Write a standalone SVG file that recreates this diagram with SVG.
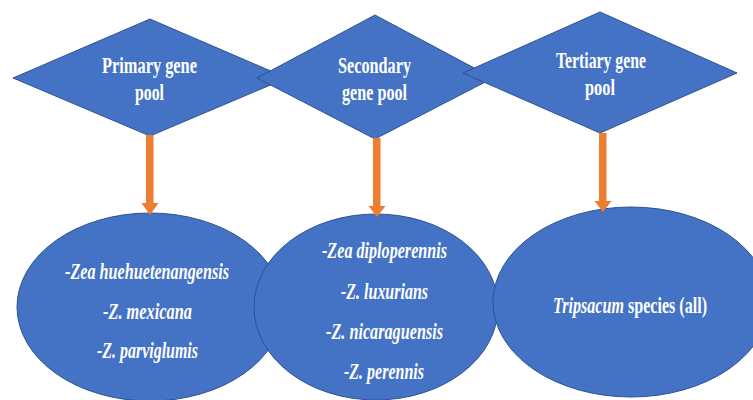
<svg xmlns="http://www.w3.org/2000/svg" width="753" height="400" viewBox="0 0 753 400">
<style>
.shape{fill:#4472C4;stroke:#2F528F;stroke-width:1}
.t{font-family:"Liberation Serif","Times New Roman",serif;font-weight:bold;fill:#FFFFFF;font-size:23px}
.i{font-style:italic}
.arrow{fill:#ED7D31}
</style>
<rect width="753" height="400" fill="#FFFFFF"/>
<g id="node-primary">
<polygon class="shape" points="150,19 287,78 150,136 13,78"/>
<text class="t" x="102" y="73" textLength="95" lengthAdjust="spacingAndGlyphs">Primary gene</text>
<text class="t" x="135" y="100" textLength="29" lengthAdjust="spacingAndGlyphs">pool</text>
</g>
<g id="node-secondary">
<polygon class="shape" points="375,15 493,78 375,139 257,78"/>
<text class="t" x="338" y="73" textLength="73" lengthAdjust="spacingAndGlyphs">Secondary</text>
<text class="t" x="342" y="100" textLength="65" lengthAdjust="spacingAndGlyphs">gene pool</text>
</g>
<g id="node-tertiary">
<polygon class="shape" points="600,12 737,73 600,133 463,73"/>
<text class="t" x="556" y="68" textLength="90" lengthAdjust="spacingAndGlyphs">Tertiary gene</text>
<text class="t" x="585" y="95" textLength="30" lengthAdjust="spacingAndGlyphs">pool</text>
</g>
<g id="node-primary-species">
<ellipse class="shape" cx="150" cy="307" rx="133" ry="94"/>
<text class="t i" x="65" y="279" textLength="164" lengthAdjust="spacingAndGlyphs">-Zea huehuetenangensis</text>
<text class="t i" x="103" y="319" textLength="89" lengthAdjust="spacingAndGlyphs">-Z. mexicana</text>
<text class="t i" x="97" y="358" textLength="101" lengthAdjust="spacingAndGlyphs">-Z. parviglumis</text>
</g>
<g id="node-secondary-species">
<ellipse class="shape" cx="376" cy="307" rx="122" ry="93"/>
<text class="t i" x="322" y="258" textLength="125" lengthAdjust="spacingAndGlyphs">-Zea diploperennis</text>
<text class="t i" x="341" y="299" textLength="87" lengthAdjust="spacingAndGlyphs">-Z. luxurians</text>
<text class="t i" x="326" y="339" textLength="117" lengthAdjust="spacingAndGlyphs">-Z. nicaraguensis</text>
<text class="t i" x="344" y="379" textLength="80" lengthAdjust="spacingAndGlyphs">-Z. perennis</text>
</g>
<g id="node-tertiary-species">
<ellipse class="shape" cx="631" cy="302" rx="138" ry="95"/>
<g transform="translate(630,313) scale(0.70,1)">
<text class="t" x="0" y="0" text-anchor="middle"><tspan font-style="italic">Tripsacum</tspan> species (all)</text>
</g>
</g>
<g id="connectors">
<polygon class="arrow" points="146,135 153.5,135 153.5,203 158.5,203 150,215 141.5,203 146,203"/>
<polygon class="arrow" points="373,138 380.5,138 380.5,206 385.5,206 377,217 368.5,206 373,206"/>
<polygon class="arrow" points="599,133 606.5,133 606.5,201 611.5,201 603,212 594.5,201 599,201"/>
</g>
</svg>
